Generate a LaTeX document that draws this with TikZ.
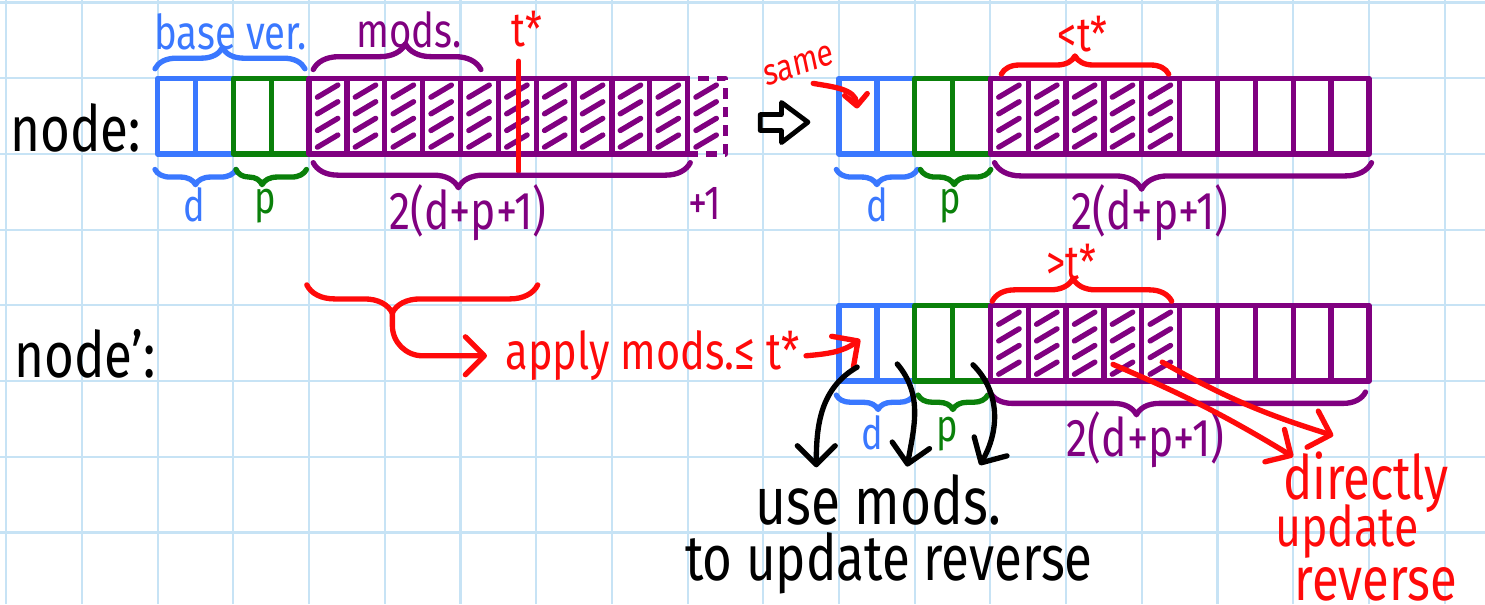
\documentclass[tikz,border=0pt]{standalone}
\usepackage{fontspec}
\setmainfont{Fira Sans}
\usepackage{tikz}
\usetikzlibrary{positioning, calc, decorations.pathreplacing, arrows.meta}
\definecolor{penblue}{HTML}{3A78FF}
\definecolor{pengreen}{HTML}{0A800A}
\definecolor{penpurple}{HTML}{800080}
\definecolor{penred}{HTML}{FF0A0A}
\definecolor{gridblue}{HTML}{C7E3F5}
\newcommand{\pen}[1]{\fontsize{#1}{#1}\selectfont}
\tikzset{
	hand/.style={inner sep=0pt, xscale=0.8},
	cell/.style={draw=#1, line width=2pt, line join=round, minimum width=0.5cm, minimum height=1cm, inner sep=0pt},
	hatch/.style={penpurple, line width=2pt, line cap=round},
	curly/.style={decorate, decoration={brace, amplitude=#1}, line width=2pt, line cap=round, line join=round},
	arrow/.style={line width=2pt, line cap=round, -{Straight Barb[length=2.5mm, width=5mm, round]}},
}
% one row of cells: 2 for d, 2 for p, 10 for the mods
\newcommand{\cellrow}[3]{%
	\foreach \i in {1,...,14} {
		\ifnum\i<3 \def\clr{penblue}\else\ifnum\i<5 \def\clr{pengreen}\else\def\clr{penpurple}\fi\fi
		\node[cell=\clr] (#1\i) at ({#2+0.5*\i-0.25},{#3+0.5}) {};
	}
}
\newcommand{\hatchcells}[2]{%
	\foreach \i in {#2} {
		\foreach \y in {-0.33,-0.11,0.11,0.33}
			\draw[hatch] ([shift={(-0.14,\y-0.08)}]#1\i.center) -- ++(0.27,0.16);
	}
}
\begin{document}
\begin{tikzpicture}
	\useasboundingbox (-0.083,0.053) rectangle (19.534,8.034);
	\draw[gridblue, line width=0.8pt, step=1] (-0.083,0.053) grid (19.534,8.034);

	% node before the cut
	\node[hand, font=\pen{24}, anchor=base west] (nodelbl) at (0.05,6.03) {node:};
	\cellrow{top}{2}{6}
	\node[cell=penpurple, dash pattern=on 4pt off 3pt] (top15) at (9.25,6.5) {};
	\hatchcells{top}{5,...,15}

	\node[hand, font=\pen{18}, penblue, anchor=base west] (baselbl) at (1.95,7.38) {base ver.};
	\draw[curly=2.8mm, penblue, decoration={aspect=0.45}] ([yshift=0.9mm]top1.north west) -- ([shift={(-0.9mm,0.9mm)}]top4.north east);
	\node[hand, font=\pen{18}, penpurple, anchor=base west] (modslbl) at (4.62,7.40) {mods.};
	\draw[curly=3.4mm, penpurple, decoration={aspect=0.55}] ([shift={(0.9mm,0.8mm)}]top5.north west) -- ([shift={(0.2mm,0.8mm)}]top9.north);

	\node[hand, font=\pen{18}, penred, anchor=base] (tlbl) at (6.88,7.42) {t*};
	\coordinate (tcut) at (6.77,5.77);
	\draw[penred, line width=2pt, line cap=round] (tcut |- tlbl.south) ++(0,-0.18) -- (tcut);

	\draw[curly=2mm, penblue, decoration={mirror, aspect=0.5}] ([yshift=-1.7mm]top1.south west) -- ([yshift=-1.7mm]top2.south east);
	\draw[curly=2mm, pengreen, decoration={mirror, aspect=0.37}] ([shift={(0.7mm,-1.7mm)}]top3.south west) -- ([shift={(-0.7mm,-1.7mm)}]top4.south east);
	\draw[curly=3.3mm, penpurple, decoration={mirror, aspect=0.385}] ([shift={(0.9mm,-0.8mm)}]top5.south west) -- ([yshift=-0.8mm]top14.south east);
	\node[hand, font=\pen{17}, penblue, anchor=base] (dlbl) at (2.49,5.11) {d};
	\node[hand, font=\pen{17}, pengreen, anchor=base] (plbl) at (3.42,5.22) {p};
	\node[hand, font=\pen{20}, penpurple, anchor=base] (sizelbl) at (6.1,5.0) {2(d+p+1)};
	\node[hand, font=\pen{18}, penpurple, anchor=base] (extralbl) at (9.23,5.13) {+1};

	% hollow arrow
	\draw[line width=1.8pt, line join=round] (9.96,6.52) -- (10.24,6.52) -- (10.24,6.68) -- (10.59,6.42) -- (10.24,6.15) -- (10.24,6.31) -- (9.96,6.31) -- cycle;

	% node after the cut
	\cellrow{cpy}{11}{6}
	\hatchcells{cpy}{5,...,9}
	\node[hand, font=\pen{14}, penred, rotate=15] (samelbl) at (10.47,7.17) {same};
	\draw[penred, line width=2pt, line cap=round, -{Straight Barb[length=1.5mm, width=3mm, round]}] ([shift={(0.16,-0.1)}]samelbl.south) to[out=-10, in=95] ([shift={(-0.01,0.1)}]cpy1.center);

	\node[hand, font=\pen{18}, penred, anchor=base] (ltlbl) at (14.22,7.35) {<t*};
	\draw[curly=2.4mm, penred, decoration={aspect=0.44}] ([shift={(0.18,0.02)}]cpy5.north west) -- ([shift={(-0.18,0.02)}]cpy9.north east);

	\draw[curly=2mm, penblue, decoration={mirror, aspect=0.5}] ([yshift=-1.7mm]cpy1.south west) -- ([yshift=-1.7mm]cpy2.south east);
	\draw[curly=2mm, pengreen, decoration={mirror, aspect=0.48}] ([shift={(1.1mm,-1.7mm)}]cpy3.south west) -- ([shift={(-0.3mm,-1.7mm)}]cpy4.south east);
	\draw[curly=3.5mm, penpurple, decoration={mirror, aspect=0.39}] ([shift={(0.9mm,-0.8mm)}]cpy5.south west) -- ([yshift=-0.8mm]cpy14.south east);
	\node[hand, font=\pen{17}, penblue, anchor=base] (dlbl2) at (11.5,5.11) {d};
	\node[hand, font=\pen{17}, pengreen, anchor=base] (plbl2) at (12.47,5.22) {p};
	\node[hand, font=\pen{20}, penpurple, anchor=base] (sizelbl2) at (15.11,5.0) {2(d+p+1)};

	% node'
	\node[hand, font=\pen{24}, anchor=base west] (nodelbl2) at (0.1,3.05) {node':};
	\draw[curly=3.7mm, penred, decoration={mirror, aspect=0.37}] (3.97,4.27) -- (7.02,4.27);
	\coordinate (applytip) at (5.1,3.9);
	\node[hand, font=\pen{19.5}, penred, anchor=base west] (applylbl) at (6.59,3.15) {apply mods.≤ t*};
	\draw[arrow, penred, rounded corners=4mm] (applytip) |- ([xshift=-2.4mm]applylbl.west);

	\cellrow{bot}{11}{3}
	\hatchcells{bot}{5,...,9}
	\draw[arrow, penred] ([xshift=0.8mm]applylbl.east) to[out=5, in=215] ([shift={(0.03,0.05)}]bot1.center);

	\node[hand, font=\pen{18}, penred, anchor=base] (gtlbl) at (14.07,4.34) {>t*};
	\draw[curly=3mm, penred, decoration={aspect=0.45}] ([shift={(0.06,0.02)}]bot5.north west) -- ([shift={(-0.14,0.02)}]bot9.north east);

	\draw[curly=1.9mm, penblue, decoration={mirror, aspect=0.54}] ([yshift=-1.5mm]bot1.south west) -- ([shift={(-0.5mm,-1.5mm)}]bot2.south east);
	\draw[curly=1.9mm, pengreen, decoration={mirror, aspect=0.5}] ([shift={(0.8mm,-1.5mm)}]bot3.south west) -- ([shift={(-0.7mm,-1.5mm)}]bot4.south east);
	\draw[curly=3mm, penpurple, decoration={mirror, aspect=0.39}] ([shift={(0.3mm,-1.1mm)}]bot5.south west) -- ([shift={(-0.8mm,-1.1mm)}]bot14.south east);
	\node[hand, font=\pen{17}, penblue, anchor=base] (dlbl3) at (11.44,2.1) {d};
	\node[hand, font=\pen{17}, pengreen, anchor=base] (plbl3) at (12.43,2.2) {p};
	\node[hand, font=\pen{20}, penpurple, anchor=base] (sizelbl3) at (15.05,2.0) {2(d+p+1)};

	% what to do with each part
	\node[hand, font=\pen{25}, anchor=base] (uselbl) at (11.52,1.11) {use mods.};
	\node[hand, font=\pen{24}, anchor=base] (updlbl) at (11.66,0.36) {to update reverse};
	\coordinate (usein1) at (10.7,1.86);
	\coordinate (usein2) at (11.9,1.87);
	\coordinate (usein3) at (12.86,1.89);
	\draw[arrow] ([shift={(-0.01,0.22)}]bot1.south) to[out=210, in=90] (usein1);
	\draw[arrow] ([shift={(0.02,0.26)}]bot2.south) to[out=-50, in=80] (usein2);
	\draw[arrow] ([shift={(0.02,0.25)}]bot4.south) to[out=-45, in=60] (usein3);

	\node[hand, font=\pen{23}, penred, anchor=base] (dirlbl) at (17.96,1.44) {directly};
	\node[hand, font=\pen{21}, penred, anchor=base] (dirlbl2) at (17.71,0.82) {update};
	\node[hand, font=\pen{23}, penred, anchor=base] (dirlbl3) at (18.09,0.1) {reverse};
	\coordinate (dirin1) at (17.0,2.0);
	\coordinate (dirin2) at (17.53,2.28);
	\draw[arrow, penred] ([shift={(-0.13,-0.28)}]bot8.center) to[bend left=4] (dirin1);
	\draw[arrow, penred] ([shift={(0.02,-0.25)}]bot9.center) to[bend right=6] (dirin2);
\end{tikzpicture}
\end{document}
